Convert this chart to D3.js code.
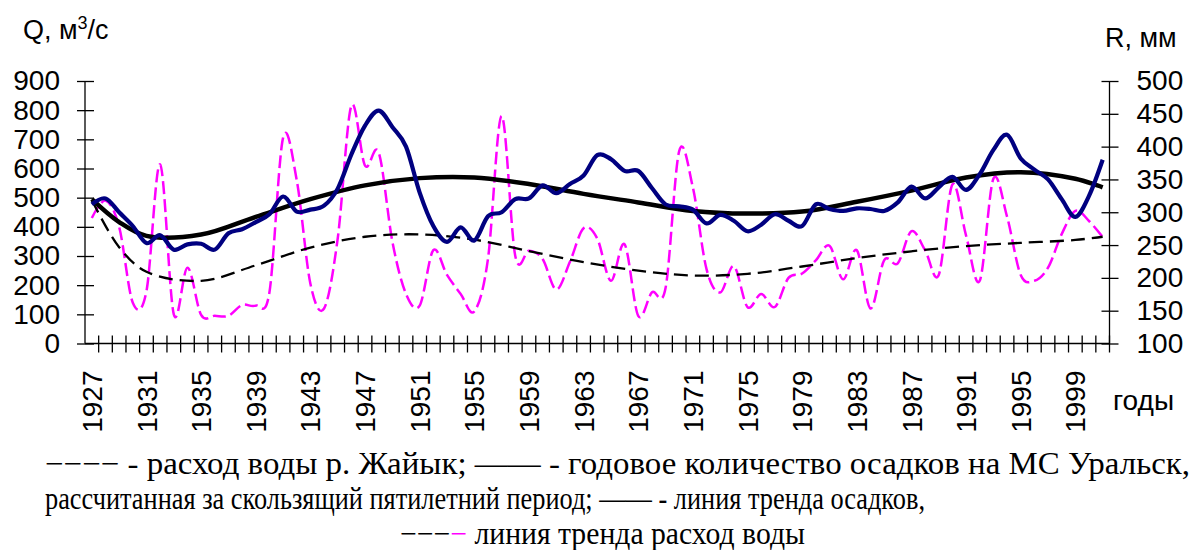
<!DOCTYPE html>
<html>
<head>
<meta charset="utf-8">
<script src="https://cdn.jsdelivr.net/npm/d3@7"></script>
<style>
html,body{margin:0;padding:0;background:#fff;}
svg{display:block;}
.serif{font-family:"Liberation Serif","DejaVu Serif","Times New Roman",serif;}
.sans{font-family:"Liberation Sans",Arial,sans-serif;}
</style>
</head>
<body>
<svg id="chart" width="1192" height="550"></svg>
<script>
// ---- data ----
const years = [1927,1928,1929,1930,1931,1932,1933,1934,1935,1936,1937,1938,1939,1940,1941,1942,1943,1944,1945,1946,
  1947,1948,1949,1950,1951,1952,1953,1954,1955,1956,1957,1958,1959,1960,1961,1962,1963,1964,1965,1966,
  1967,1968,1969,1970,1971,1972,1973,1974,1975,1976,1977,1978,1979,1980,1981,1982,1983,1984,1985,1986,
  1987,1988,1989,1990,1991,1992,1993,1994,1995,1996,1997,1998,1999,2000,2001];
// water discharge of the Zhaiyk (Ural) river, m3/s (left axis)
const discharge = [430,490,400,140,180,614,100,260,98,95,95,132,130,175,705,560,205,120,360,815,
  610,655,350,170,130,320,235,170,110,290,780,300,318,290,185,280,395,360,215,340,
  95,175,190,660,535,255,175,265,125,170,125,225,240,285,335,220,320,120,285,275,
  385,320,235,545,370,215,565,435,235,215,260,375,455,420,365];
// annual precipitation at Uralsk, 5-year moving average, mm (right axis)
const precip = [312,321,300,279,253,265,243,251,252,243,268,274,285,297,324,301,304,310,336,388,
  432,455,430,400,330,279,255,277,257,294,300,320,321,341,329,343,356,387,381,363,
  363,337,312,309,304,283,296,287,271,281,297,287,279,312,305,302,306,305,302,315,
  339,321,338,354,334,358,395,418,382,365,350,320,293,325,380];
// trend lines read at selected years
const trendYears = [1927,1929,1931,1935,1939,1943,1947,1951,1955,1959,1963,1967,1971,1975,1979,1983,1987,1991,1995,1999,2001];
const precipTrend = [320,285,264,266,293,320,341,352,353,343,328,315,302,298,301,316,333,353,361,351,338];
const dischargeTrend = [492,330,246,215,268,329,366,374,356,317,279,250,233,239,264,293,316,334,345,355,366];
// axes
const qTicks = [0,100,200,300,400,500,600,700,800,900];
const rTicks = [100,150,200,250,300,350,400,450,500];
const labelYears = [1927,1931,1935,1939,1943,1947,1951,1955,1959,1963,1967,1971,1975,1979,1983,1987,1991,1995,1999];
const legendLines = [
  "- расход воды р. Жайык; ——  -  годовое количество осадков на МС Уральск,",
  "рассчитанная за скользящий  пятилетний период; —— - линия тренда осадков,",
  "линия тренда расход воды"
];

// ---- drawing ----
const svg = d3.select("#chart");

const x = d3.scaleBand().domain(years).range([85, 1109.5]).paddingInner(0).paddingOuter(0);
const cx = d => x(d) + x.bandwidth() / 2;
const yQ = d3.scaleLinear().domain([0, 900]).range([343.5, 81]);
const yR = d3.scaleLinear().domain([100, 500]).range([343.5, 81]);

// left axis
const gL = svg.append("g").attr("transform", "translate(85,0)")
  .call(d3.axisLeft(yQ).tickValues(qTicks).tickSize(8).tickPadding(17).tickFormat(d3.format("d")));
gL.selectAll(".tick line").attr("x1", 9).attr("x2", -8);
// right axis
const gR = svg.append("g").attr("transform", "translate(1109.5,0)")
  .call(d3.axisRight(yR).tickValues(rTicks).tickSize(9).tickPadding(18).tickFormat(d3.format("d")));
gR.selectAll(".tick line").attr("x1", -8).attr("x2", 9);
[gL, gR].forEach(g => {
  g.attr("font-family", null);
  g.select(".domain").remove();
  g.append("line").attr("x1", 0).attr("x2", 0).attr("y1", yQ(900)).attr("y2", yQ(0)).attr("stroke", "#000").attr("stroke-width", 1.3);
  g.selectAll(".tick line").attr("stroke", "#000").attr("stroke-width", 1.3);
  g.selectAll(".tick text").attr("class", "sans").attr("font-size", 28).attr("fill", "#000");
});

// bottom axis
const gB = svg.append("g").attr("transform", "translate(0,343.5)")
  .call(d3.axisBottom(x).tickValues(labelYears).tickSize(0).tickPadding(0));
gB.attr("font-family", null);
gB.select(".domain").remove();
gB.append("line").attr("x1", 85).attr("x2", 1109.5).attr("y1", 0).attr("y2", 0).attr("stroke", "#000").attr("stroke-width", 1.3);
gB.selectAll(".tick text")
  .attr("class", "sans").attr("font-size", 28).attr("fill", "#000")
  .attr("transform", "rotate(-90)")
  .attr("text-anchor", "end")
  .attr("x", -27).attr("y", 0).attr("dy", "0.36em");
const boundaries = years.map(d => x(d)).concat([x.range()[1]]);
gB.selectAll("line.yt").data(boundaries.slice(1)).join("line").attr("class", "yt")
  .attr("x1", d => d).attr("x2", d => d).attr("y1", -8).attr("y2", 9)
  .attr("stroke", "#000").attr("stroke-width", 1.3);

const plot = svg.append("g");
// discharge (magenta dashed)
plot.append("path").datum(years.map((d, i) => [cx(d), yQ(discharge[i])]))
  .attr("d", d3.line().curve(d3.curveCardinal.tension(0)))
  .attr("fill", "none").attr("stroke", "#ff00ff").attr("stroke-width", 2.5)
  .attr("stroke-dasharray", "13,5");
// discharge trend (black dashed)
plot.append("path").datum(trendYears.map((d, i) => [cx(d), yQ(dischargeTrend[i])]))
  .attr("d", d3.line().curve(d3.curveCatmullRom.alpha(0.5)))
  .attr("fill", "none").attr("stroke", "#000").attr("stroke-width", 2.3)
  .attr("stroke-dasharray", "14,7");
// precipitation trend (thick black)
plot.append("path").datum(trendYears.map((d, i) => [cx(d), yR(precipTrend[i])]))
  .attr("d", d3.line().curve(d3.curveCatmullRom.alpha(0.5)))
  .attr("fill", "none").attr("stroke", "#000").attr("stroke-width", 4.5);
// precipitation (navy)
plot.append("path").datum(years.map((d, i) => [cx(d), yR(precip[i])]))
  .attr("d", d3.line().curve(d3.curveCardinal.tension(0)))
  .attr("fill", "none").attr("stroke", "#000080").attr("stroke-width", 4.2)
  .attr("stroke-linejoin", "round");

// axis titles
const tQ = svg.append("text").attr("class", "sans").attr("x", 23).attr("y", 39).attr("font-size", 27).attr("fill", "#000");
tQ.append("tspan").text("Q, м");
tQ.append("tspan").attr("dy", -10).attr("font-size", 18).text("3");
tQ.append("tspan").attr("dy", 10).text("/с");
svg.append("text").attr("class", "sans").attr("x", 1105).attr("y", 47).attr("font-size", 27).attr("fill", "#000").text("R, мм");
svg.append("text").attr("class", "sans").attr("x", 1113).attr("y", 410).attr("font-size", 28).attr("fill", "#000").text("годы");

// legend text (condensed serif)
const l1 = svg.append("text").attr("class", "serif").attr("x", 45).attr("y", 474).attr("font-size", 31)
  .attr("textLength", 1145).attr("lengthAdjust", "spacingAndGlyphs").attr("fill", "#000");
l1.append("tspan").text("−−−− ");
l1.append("tspan").text(legendLines[0]);
svg.append("text").attr("class", "serif").attr("x", 45).attr("y", 509).attr("font-size", 31)
  .attr("textLength", 880).attr("lengthAdjust", "spacingAndGlyphs").attr("fill", "#000").text(legendLines[1]);
const l3 = svg.append("text").attr("class", "serif").attr("x", 400).attr("y", 544).attr("font-size", 31)
  .attr("textLength", 405).attr("lengthAdjust", "spacingAndGlyphs").attr("fill", "#000");
l3.append("tspan").text("−−−");
l3.append("tspan").attr("fill", "#ff00ff").text("−");
l3.append("tspan").text(" " + legendLines[2]);
</script>
</body>
</html>
